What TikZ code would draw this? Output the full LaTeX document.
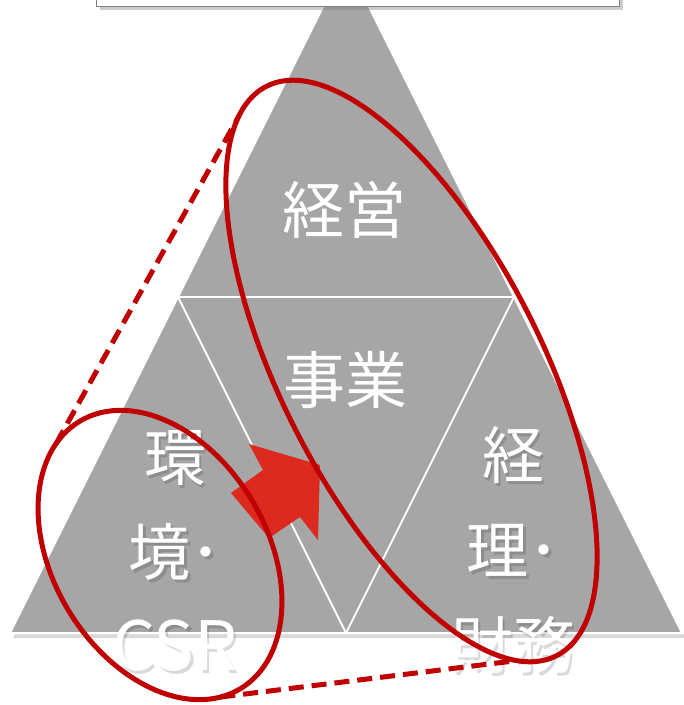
\documentclass[tikz,border=0pt]{standalone}
\usepackage{fontspec}
\newfontfamily\jp{Noto Sans CJK JP}
\usetikzlibrary{shadows, calc, shapes.geometric}
\definecolor{pyrgray}{HTML}{A6A6A6}
\definecolor{ringred}{HTML}{C00000}
\definecolor{arrowred}{HTML}{DC2A1E}
\tikzset{
pyramid/.style={fill=pyrgray, draw=white, line width=2pt, drop shadow={shadow xshift=3pt, shadow yshift=-5pt, opacity=.3}}, % the big triangle
divider/.style={draw=white, line width=1.8pt}, % inner white lines
banner/.style={fill=white, draw=black!50, line width=1.4pt, inner sep=0pt, drop shadow={shadow xshift=3pt, shadow yshift=-4pt, opacity=.4}}, % box on top
word/.style={text=white, font=\jp\fontsize{62}{95}\selectfont, align=center, inner sep=0pt}, % white labels
wordshadow/.style={word, text=black, opacity=.15}, % soft shadow under a label
ring/.style={draw=ringred, line width=5pt, ellipse, inner sep=0pt, outer sep=0pt}, % red ellipses
zoomline/.style={draw=ringred, line width=5pt, dash pattern=on 15pt off 8pt}, % dashed red lines
bigarrow/.style={fill=arrowred}, % fat red arrow
}
\begin{document}
\begin{tikzpicture}[x=1pt, y=-1pt]
\useasboundingbox (0,0) rectangle (684,705);
\clip (0,0) rectangle (684,705);
% triangle and its parts
\coordinate (apex) at (346,-39);
\coordinate (bl) at (10,633);
\coordinate (br) at (682,633);
\coordinate (ml) at ($(apex)!0.5!(bl)$);
\coordinate (mr) at ($(apex)!0.5!(br)$);
\coordinate (mb) at ($(bl)!0.5!(br)$);
\path[pyramid] (bl) -- (apex) -- (br) -- cycle;
\draw[divider] (ml) -- (mr) -- (mb) -- cycle;
\node[banner, minimum width=523pt, minimum height=60pt, anchor=south west] (title) at (96,7) {};
% labels
\node[word] (mgmt) at (344,210) {経営};
\node[word] (biz) at (345,380) {事業};
\node[wordshadow] (envs) at (177.5,553.5) {環\\境･\\{\fontsize{68}{95}\selectfont CSR}};
\node[word] (env) at (175,551) {環\\境･\\{\fontsize{68}{95}\selectfont CSR}};
\node[wordshadow] (accts) at (515.5,552.5) {経\\理･\\財務};
\node[word] (acct) at (513,550) {経\\理･\\財務};
% arrow
\fill[bigarrow] (231,493) -- (263,470) -- (249,444) -- (320,465) -- (318,540) -- (300,517) -- (269,538) -- cycle;
% ellipses and dashed lines
\node[ring, minimum width=639pt, minimum height=260pt, rotate=-63] (mgmtring) at (411.5,371) {};
\node[ring, minimum width=312pt, minimum height=214pt, rotate=-59] (envring) at (160,555) {};
\draw[zoomline] (envring.192) -- (mgmtring.187);
\draw[zoomline] (envring.352) -- (mgmtring.353);
\end{tikzpicture}
\end{document}
